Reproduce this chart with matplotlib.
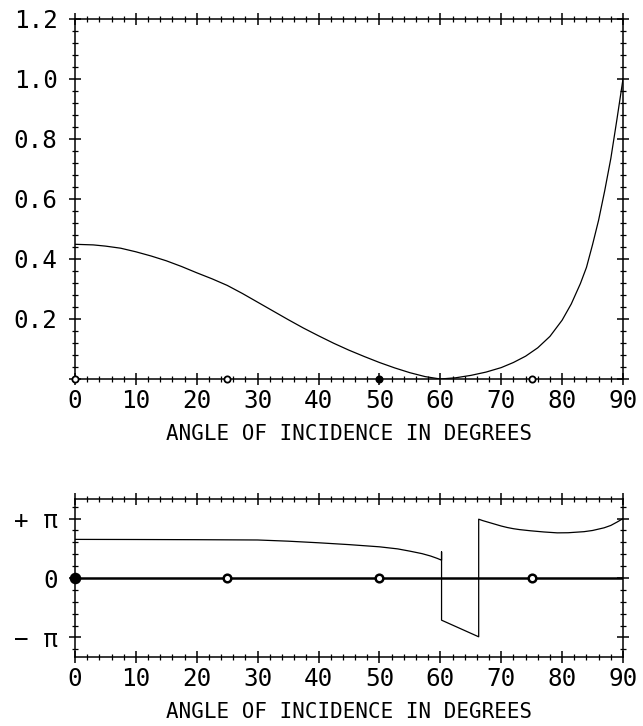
import numpy as np
import matplotlib
matplotlib.use("Agg")
import matplotlib.pyplot as plt
from matplotlib.ticker import FixedLocator, MultipleLocator

# ---------------- data ----------------
theta_top = [0, 3, 5, 7.5, 10, 12.5, 15, 17.5, 20, 22.5, 25, 27.5, 30, 32.5,
             35, 37.5, 40, 42.5, 45, 47.5, 50, 52.5, 55, 57.5, 60, 62.5, 65,
             67.5, 70, 72, 74, 76, 78, 80, 81.5, 83, 84, 85, 86, 87, 88, 89, 90]
refl = [0.449, 0.447, 0.443, 0.436, 0.424, 0.410, 0.394, 0.375, 0.354, 0.334,
        0.312, 0.285, 0.256, 0.227, 0.198, 0.170, 0.144, 0.119, 0.096, 0.075,
        0.055, 0.037, 0.021, 0.008, 0.0, 0.004, 0.012, 0.023, 0.038, 0.055,
        0.076, 0.104, 0.142, 0.196, 0.250, 0.318, 0.372, 0.448, 0.530, 0.628,
        0.735, 0.865, 1.0]

theta_phase = [0, 10, 20, 30, 35, 40, 45, 50, 53, 55, 57, 58.4, 59.5, 60.2,
               60.2, 60.2, 66.3, 66.3, 67, 68, 69, 70, 71, 72, 73, 74.8, 77,
               79.2, 81, 83.6, 85, 86.9, 88, 89.1, 90]
phase_pi = [0.65, 0.648, 0.645, 0.64, 0.62, 0.593, 0.562, 0.525, 0.49, 0.452,
            0.41, 0.37, 0.33, 0.30, 0.44, -0.71, -0.99, 0.99, 0.965, 0.935,
            0.905, 0.875, 0.85, 0.83, 0.815, 0.795, 0.775, 0.76, 0.762, 0.78,
            0.80, 0.845, 0.885, 0.946, 1.0]

zero_x = [0, 90]
zero_y = [0, 0]

marker_x = [0, 25, 50, 75]
marker_y = [0, 0, 0, 0]

x_ticks = [0, 10, 20, 30, 40, 50, 60, 70, 80, 90]
x_ticklabels = ["0", "10", "20", "30", "40", "50", "60", "70", "80", "90"]
top_yticks = [0, 0.2, 0.4, 0.6, 0.8, 1.0, 1.2]
top_yticklabels = ["", "0.2", "0.4", "0.6", "0.8", "1.0", "1.2"]
bot_yticks_pi = [-1, 0, 1]
bot_yticklabels = ["\u2212 \u03c0", "0", "+ \u03c0"]
xlabel_text = "ANGLE OF INCIDENCE IN DEGREES"

# ---------------- style ----------------
plt.rcParams['font.family'] = ['DejaVu Sans Mono', 'DejaVu Sans']
W, H = 643, 726
fig = plt.figure(figsize=(W / 100, H / 100), dpi=100)

def fx(px):
    return px / W

def fy(py):
    return 1 - py / H

L, R = 75, 623
ax1 = fig.add_axes([fx(L), fy(379), fx(R) - fx(L), fy(19) - fy(379)])
ax2 = fig.add_axes([fx(L), fy(657), fx(R) - fx(L), fy(499) - fy(657)])

def style(ax):
    for s in ax.spines.values():
        s.set_linewidth(1.1)
        s.set_color('black')
    ax.tick_params(which='both', direction='inout', top=True, right=True,
                   colors='black')
    ax.tick_params(which='major', length=9, width=1.1, labelsize=17.5, pad=3)
    ax.tick_params(which='minor', length=4, width=0.9)
    ax.set_xlim(0, 90)
    ax.xaxis.set_major_locator(FixedLocator(x_ticks))
    ax.set_xticklabels(x_ticklabels)
    ax.xaxis.set_minor_locator(MultipleLocator(2))
    ax.set_xlabel(xlabel_text, fontsize=15)

# top panel
style(ax1)
ax1.plot(theta_top, refl, color='black', lw=0.9)
ax1.set_ylim(0, 1.2)
ax1.yaxis.set_major_locator(FixedLocator(top_yticks))
ax1.set_yticklabels(top_yticklabels)
ax1.yaxis.set_minor_locator(MultipleLocator(0.04))
ax1.tick_params(axis='y', pad=8)
for xm, ym, fc in zip(marker_x, marker_y, ['white', 'white', 'black', 'white']):
    ax1.plot([xm], [ym], 'o', ms=4.5, mfc=fc, mec='black', mew=1.3,
             clip_on=False, zorder=5)
ax1.xaxis.set_label_coords(0.5, (379 - 434) / 360)
ax1.xaxis.label.set_va('center')

# bottom panel
style(ax2)
ax2.plot(zero_x, zero_y, color='black', lw=1.8)
ax2.plot(theta_phase, np.array(phase_pi) * np.pi, color='black', lw=0.9)
ax2.set_ylim(-1.33 * np.pi, 1.33 * np.pi)
ax2.yaxis.set_major_locator(FixedLocator(np.array(bot_yticks_pi) * np.pi))
ax2.set_yticklabels(bot_yticklabels)
ax2.yaxis.set_minor_locator(MultipleLocator(np.pi / 5))
ax2.tick_params(axis='y', pad=8)
for xm, ym in zip(marker_x, marker_y):
    fc = 'black' if xm == 0 else 'white'
    ax2.plot([xm], [ym], 'o', ms=6.5 if xm == 0 else 5.5, mfc=fc,
             mec='black', mew=1.8, clip_on=False, zorder=5)
ax2.xaxis.set_label_coords(0.5, (657 - 712) / 158)
ax2.xaxis.label.set_va('center')

fig.savefig("out.png", dpi=100)
